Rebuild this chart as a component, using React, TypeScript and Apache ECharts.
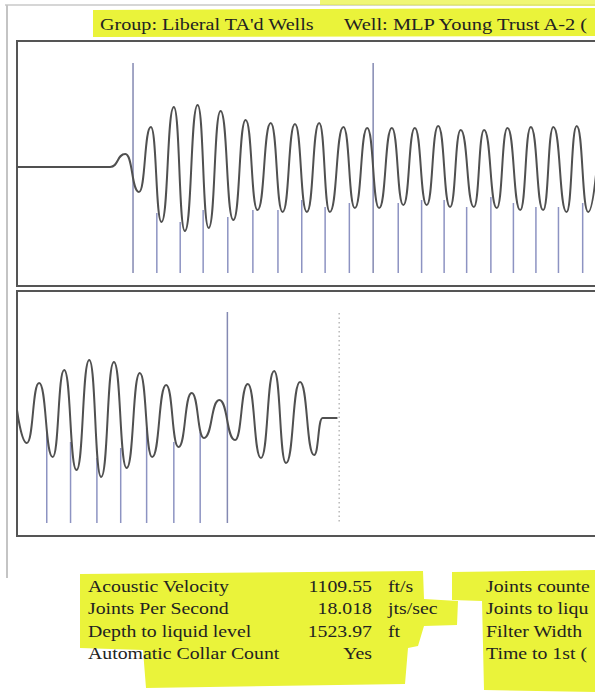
import React, { useEffect, useRef } from "react";
import * as echarts from "echarts";

// ---- Top panel (full shot): waveform extrema, time in ms, amplitude in arbitrary units
const topWaveT = [0, 219, 255, 287, 315, 340, 369, 395, 425, 451, 479, 509, 538, 566, 597, 625, 654, 682, 711, 736, 768, 795, 824, 852, 882, 909, 936, 964, 991, 1019, 1044, 1075, 1099, 1129, 1154, 1184, 1209, 1238, 1262, 1293, 1317, 1344, 1372];
const topWaveA = [0, 0, 13, -25, 40, -55, 60, -64, 62, -61, 56, -53, 47, -43, 44, -45, 43, -45, 44, -45, 40, -41, 39, -41, 39, -38, 39, -38, 41, -40, 37, -40, 37, -41, 39, -43, 40, -43, 40, -45, 41, -45, 41];
const topTallT = [273, 838];
const topShortT = [329, 384, 438, 496, 555, 614, 670, 725, 782, 897, 952, 1005, 1058, 1115, 1168, 1221, 1274, 1331];
const topShortTop = [-46, -55, -43, -50, -43, -43, -33, -40, -36, -36, -33, -33, -40, -30, -36, -40, -40, -36];

// ---- Bottom panel (liquid level detail)
const botWaveT = [0, 23, 52, 84, 111, 140, 170, 198, 228, 258, 289, 318, 351, 380, 411, 440, 476, 513, 543, 574, 605, 633, 666, 699, 719, 754];
const botWaveA = [8, -25, 35, -39, 48, -52, 58, -59, 56, -50, 45, -39, 33, -29, 25, -20, 18, -22, 34, -40, 47, -45, 36, -37, 0, 0];
const botTallT = [495];
const botShortT = [70, 126, 188, 244, 305, 369, 431];
const botShortTop = [-14, -24, -40, -30, -10, -24, -14];
const botDottedT = [758];

// ---- Text
const titleGroup = "Group: Liberal TA'd Wells";
const titleWell = "Well: MLP Young Trust A-2 (";
const leftLabels = ["Acoustic Velocity", "Joints Per Second", "Depth to liquid level", "Automatic Collar Count"];
const leftValues = ["1109.55", "18.018", "1523.97", "Yes"];
const leftUnits = ["ft/s", "jts/sec", "ft", ""];
const rightLabels = ["Joints counte", "Joints to liqu", "Filter Width", "Time to 1st ("];

const WAVE = "#505050";
const MARK = "#8d93c2";
const MARK_TALL = "#8489b2";
const HL = "#eaf33a";
const INK = "#222222";
const FONT = "Liberation Serif, Times New Roman, serif";

function markerSeries(xi: number, data: number[][], color: string, dash?: number[], width = 1.5) {
  return {
    type: "custom",
    xAxisIndex: xi,
    yAxisIndex: xi,
    data,
    silent: true,
    z: 1,
    encode: { x: 0, y: [1, 2] },
    renderItem: (_p: any, api: any) => {
      const a = api.coord([api.value(0), api.value(1)]);
      const b = api.coord([api.value(0), api.value(2)]);
      return {
        type: "line",
        shape: { x1: a[0], y1: a[1], x2: b[0], y2: b[1] },
        style: { stroke: color, lineWidth: width, lineDash: dash },
      };
    },
  };
}

function txt(text: string, x: number, y: number, size: number, sx: number, align = "left") {
  return {
    type: "text", x, y, scaleX: sx, z: 10,
    style: { text, font: `${size}px ${FONT}`, fill: INK, textAlign: align, textVerticalAlign: "top" },
  };
}

export default function App() {
  const ref = useRef<HTMLDivElement>(null);
  useEffect(() => {
    const chart = echarts.init(ref.current!, null, { renderer: "svg" });
    const rowY = [578, 600.5, 623, 645.5];
    const textEls: any[] = [];
    leftLabels.forEach((t, i) => {
      textEls.push(txt(t, 88, rowY[i], 16.5, 1.2));
      textEls.push(txt(leftValues[i], 372, rowY[i], 16.5, 1.2, "right"));
      if (leftUnits[i]) textEls.push(txt(leftUnits[i], 388, rowY[i], 16.5, 1.2));
      textEls.push(txt(rightLabels[i], 486, rowY[i], 16.5, 1.2));
    });

    const gridCommon = { show: true, borderColor: "#555", borderWidth: 2, backgroundColor: "transparent", outerBoundsMode: "none", containLabel: false };
    const option: any = {
      animation: false,
      backgroundColor: "#ffffff",
      grid: [
        { ...gridCommon, left: 17, top: 41, width: 595, height: 245 },
        { ...gridCommon, left: 17, top: 291, width: 595, height: 245 },
      ],
      xAxis: [
        { type: "value", gridIndex: 0, min: 0, max: 1400, show: false },
        { type: "value", gridIndex: 1, min: 0, max: 1400, show: false },
      ],
      yAxis: [
        { type: "value", gridIndex: 0, min: -119, max: 126, show: false },
        { type: "value", gridIndex: 1, min: -118, max: 127, show: false },
      ],
      series: [
        markerSeries(0, topTallT.map((t) => [t, 104, -106]), MARK_TALL),
        markerSeries(0, topShortT.map((t, i) => [t, topShortTop[i], -106]), MARK),
        markerSeries(1, botTallT.map((t) => [t, 106, -105]), MARK_TALL),
        markerSeries(1, botShortT.map((t, i) => [t, botShortTop[i], -105]), MARK),
        markerSeries(1, botDottedT.map((t) => [t, 105, -105]), "#a8a8a8", [1.5, 3], 1.2),
        {
          type: "line", xAxisIndex: 0, yAxisIndex: 0, z: 3,
          data: topWaveT.map((t, i) => [t, topWaveA[i]]),
          smooth: 0.55, smoothMonotone: "x", showSymbol: false, symbol: "none",
          lineStyle: { color: WAVE, width: 2 }, silent: true,
        },
        {
          type: "line", xAxisIndex: 1, yAxisIndex: 1, z: 3,
          data: botWaveT.map((t, i) => [t, botWaveA[i]]),
          smooth: 0.55, smoothMonotone: "x", showSymbol: false, symbol: "none",
          lineStyle: { color: WAVE, width: 2 }, silent: true,
        },
      ],
      graphic: [
        { type: "line", z: 1, shape: { x1: 5, y1: 5, x2: 595, y2: 5 }, style: { stroke: "#c8c8c8", lineWidth: 1.5 } },
        { type: "line", z: 1, shape: { x1: 7, y1: 5, x2: 7, y2: 578 }, style: { stroke: "#c4c4c4", lineWidth: 2 } },
        { type: "polygon", z: 2, shape: { points: [[93, 10], [600, 8], [600, 36], [93, 37]] }, style: { fill: HL } },
        { type: "polygon", z: 2, shape: { points: [[320, 0], [600, 0], [600, 6], [320, 5]] }, style: { fill: HL, opacity: 0.7 } },
        { type: "polygon", z: 2, shape: { points: [[80, 574], [423, 571], [424, 599], [458, 601], [457, 625], [424, 626], [418, 646], [408, 648], [405, 684], [146, 688], [143, 650], [80, 648]] }, style: { fill: HL } },
        { type: "polygon", z: 2, shape: { points: [[452, 572], [600, 570], [600, 692], [484, 690], [482, 601], [452, 600]] }, style: { fill: HL } },
        txt(titleGroup, 100, 15, 17.5, 1.15),
        txt(titleWell, 344, 15, 17.5, 1.17),
        ...textEls,
      ],
    };
    chart.setOption(option);
    return () => chart.dispose();
  }, []);
  return <div ref={ref} style={{ position: "fixed", left: 0, top: 0, width: 595, height: 698, background: "#fff" }} />;
}
